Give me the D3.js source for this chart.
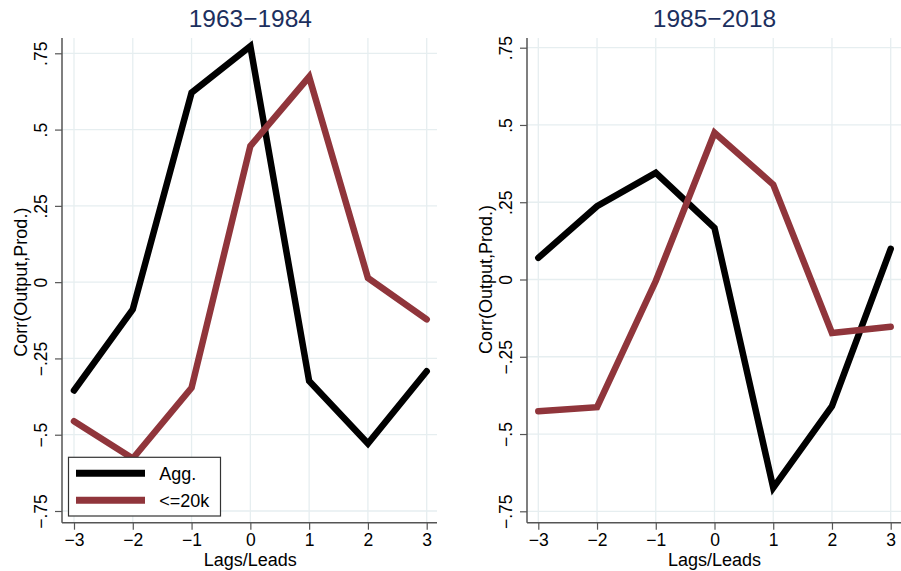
<!DOCTYPE html>
<html>
<head>
<meta charset="utf-8">
<script src="https://cdn.jsdelivr.net/npm/d3@7"></script>
<style>
  html, body { margin: 0; padding: 0; background: #fff; }
  svg { display: block; font-family: "Liberation Sans", Arial, Helvetica, sans-serif; }
</style>
</head>
<body>
<svg id="chart" width="901" height="571"></svg>
<script>
// ---- data ----
const lags = [-3, -2, -1, 0, 1, 2, 3];
const yTicks = [-0.75, -0.5, -0.25, 0, 0.25, 0.5, 0.75];
const yTickLabels = ["\u2212.75", "\u2212.5", "\u2212.25", "0", ".25", ".5", ".75"];
const xTickLabels = ["\u22123", "\u22122", "\u22121", "0", "1", "2", "3"];
const panelTitles = ["1963\u22121984", "1985\u22122018"];
const seriesNames = ["Agg.", "<=20k"];
const seriesColors = ["#000000", "#90353b"];
const agg6384   = [-0.355, -0.089, 0.621, 0.773, -0.324, -0.529, -0.292];
const small6384 = [-0.456, -0.578, -0.346, 0.446, 0.673, 0.014, -0.122];
const agg8518   = [0.070, 0.237, 0.345, 0.167, -0.674, -0.410, 0.099];
const small8518 = [-0.426, -0.413, -0.005, 0.475, 0.307, -0.173, -0.153];

const panels = [
  { title: panelTitles[0], series: [agg6384, small6384], axisX: 62, right: 437,
    xr: [74, 426.7], yr: [511, 53.3], legend: true, ylabX: 20 },
  { title: panelTitles[1], series: [agg8518, small8518], axisX: 527, right: 901,
    xr: [538.3, 890.7], yr: [511.3, 47.7], legend: false, ylabX: 485 }
];
const plotTop = 38, plotBottom = 522.7;
const gridColor = "#e6eef0";
const axisColor = "#555";
const FONT = "Liberation Sans, Arial, sans-serif";

const svg = d3.select("#chart");

panels.forEach(p => {
  const x = d3.scaleLinear().domain([-3, 3]).range(p.xr);
  const y = d3.scaleLinear().domain([-0.75, 0.75]).range(p.yr);
  const g = svg.append("g");

  // grid
  g.selectAll(".hg").data(yTicks).enter().append("line")
    .attr("x1", p.axisX).attr("x2", p.right)
    .attr("y1", d => y(d)).attr("y2", d => y(d))
    .attr("stroke", gridColor).attr("stroke-width", 1.3);
  g.selectAll(".vg").data(lags).enter().append("line")
    .attr("x1", d => x(d)).attr("x2", d => x(d))
    .attr("y1", plotTop).attr("y2", plotBottom)
    .attr("stroke", gridColor).attr("stroke-width", 1.3);

  // y axis
  const yAxis = d3.axisLeft(y).tickValues(yTicks).tickSize(7)
    .tickFormat((d, i) => yTickLabels[i]);
  const ya = g.append("g").attr("transform", `translate(${p.axisX},0)`).call(yAxis);
  ya.select(".domain").remove();
  ya.selectAll(".tick line").attr("stroke", axisColor).attr("stroke-width", 1.2);
  ya.selectAll(".tick text")
    .attr("transform", "rotate(-90)")
    .attr("x", 0).attr("y", -15).attr("dy", 0)
    .attr("text-anchor", "middle")
    .attr("font-size", 17.5).attr("fill", "#000")
    .attr("font-family", FONT);
  g.append("line").attr("x1", p.axisX).attr("x2", p.axisX)
    .attr("y1", plotTop).attr("y2", plotBottom).attr("stroke", axisColor).attr("stroke-width", 1.5);

  // x axis
  const xAxis = d3.axisBottom(x).tickValues(lags).tickSize(7)
    .tickFormat((d, i) => xTickLabels[i]);
  const xa = g.append("g").attr("transform", `translate(0,${plotBottom})`).call(xAxis);
  xa.select(".domain").remove();
  xa.selectAll(".tick line").attr("stroke", axisColor).attr("stroke-width", 1.2);
  xa.selectAll(".tick text").attr("y", 23.5).attr("dy", 0)
    .attr("font-size", 17.5).attr("fill", "#000")
    .attr("font-family", FONT);
  g.append("line").attr("x1", p.axisX).attr("x2", p.right)
    .attr("y1", plotBottom).attr("y2", plotBottom).attr("stroke", axisColor).attr("stroke-width", 1.5);

  // lines
  const line = d3.line().x((d, i) => x(lags[i])).y(d => y(d));
  p.series.forEach((s, k) => {
    g.append("path").datum(s).attr("d", line)
      .attr("fill", "none").attr("stroke", seriesColors[k])
      .attr("stroke-width", 6.5).attr("stroke-linejoin", "miter").attr("stroke-linecap", "round");
  });

  // title
  g.append("text").attr("x", x(0)).attr("y", 27).attr("text-anchor", "middle")
    .attr("font-size", 24.5).attr("fill", "#1c2f5e").text(p.title);
  // x label
  g.append("text").attr("x", x(0)).attr("y", 566).attr("text-anchor", "middle")
    .attr("font-size", 18).attr("fill", "#000").text("Lags/Leads");
  // y label
  g.append("text").attr("transform", `translate(${p.ylabX + 6.5},${y(0)}) rotate(-90)`)
    .attr("text-anchor", "middle").attr("font-size", 18).attr("fill", "#000")
    .text("Corr(Output,Prod.)");

  // legend
  if (p.legend) {
    const lg = g.append("g");
    lg.append("rect").attr("x", 68.5).attr("y", 457.3).attr("width", 152).attr("height", 58.7)
      .attr("fill", "#fff").attr("stroke", "#333").attr("stroke-width", 1.2);
    seriesNames.forEach((n, k) => {
      const yy = 473.3 + k * 27;
      lg.append("line").attr("x1", 76).attr("x2", 145).attr("y1", yy).attr("y2", yy)
        .attr("stroke", seriesColors[k]).attr("stroke-width", 7);
      lg.append("text").attr("x", 159.3).attr("y", yy + 6.5).attr("font-size", 18)
        .attr("fill", "#000").text(n);
    });
  }
});
</script>
</body>
</html>
